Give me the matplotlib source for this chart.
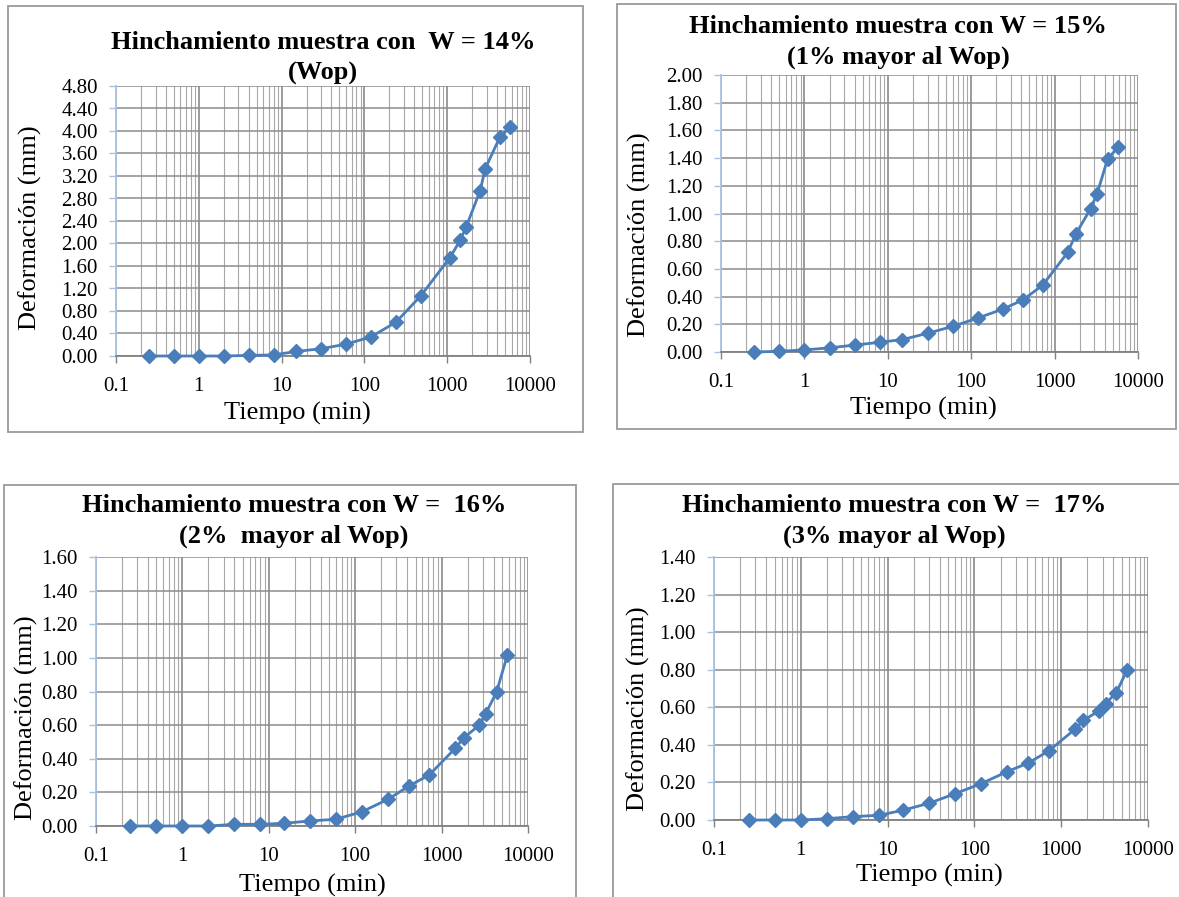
import matplotlib
matplotlib.use("Agg")
import matplotlib.pyplot as plt
from matplotlib.patches import Rectangle
from matplotlib.ticker import FixedLocator, FixedFormatter, LogLocator, NullFormatter

plt.rcParams['font.family'] = ['Liberation Serif', 'DejaVu Serif']

# ---------------- data ----------------
x_w14 = [0.25, 0.5, 1, 2, 4, 8, 15, 30, 60, 120, 240, 480, 1080, 1440, 1700, 2500, 2880, 4320, 5760]
y_w14 = [0, 0, 0, 0, 0.01, 0.02, 0.08, 0.13, 0.21, 0.34, 0.60, 1.07, 1.75, 2.06, 2.30, 2.94, 3.33, 3.89, 4.07]

x_w15 = [0.25, 0.5, 1, 2, 4, 8, 15, 30, 60, 120, 240, 420, 720, 1440, 1800, 2700, 3240, 4320, 5760]
y_w15 = [0, 0.005, 0.015, 0.03, 0.05, 0.07, 0.09, 0.135, 0.185, 0.245, 0.31, 0.377, 0.483, 0.72, 0.853, 1.034, 1.144, 1.394, 1.478]

x_w16 = [0.25, 0.5, 1, 2, 4, 8, 15, 30, 60, 120, 240, 420, 720, 1440, 1800, 2700, 3240, 4320, 5760]
y_w16 = [0, 0, 0, 0, 0.01, 0.01, 0.016, 0.03, 0.04, 0.085, 0.159, 0.238, 0.304, 0.462, 0.524, 0.598, 0.669, 0.796, 1.016]

x_w17 = [0.25, 0.5, 1, 2, 4, 8, 15, 30, 60, 120, 240, 420, 720, 1440, 1800, 2700, 3240, 4320, 5760]
y_w17 = [0, 0, 0, 0.007, 0.018, 0.025, 0.052, 0.089, 0.14, 0.194, 0.258, 0.304, 0.368, 0.483, 0.530, 0.580, 0.620, 0.678, 0.80]

titles = [
    "Hinchamiento muestra con  W = 14%\n(Wop)",
    "Hinchamiento muestra con W = 15%\n(1% mayor al Wop)",
    "Hinchamiento muestra con W =  16%\n(2%  mayor al Wop)",
    "Hinchamiento muestra con W =  17%\n(3% mayor al Wop)",
]
y_max = [4.80, 2.00, 1.60, 1.40]
y_step = [0.40, 0.20, 0.20, 0.20]
x_ticks = [0.1, 1, 10, 100, 1000, 10000]
x_ticklabels = ["0.1", "1", "10", "100", "1000", "10000"]
xlabel = "Tiempo (min)"
ylabel = "Deformación (mm)"

series = [(x_w14, y_w14), (x_w15, y_w15), (x_w16, y_w16), (x_w17, y_w17)]

# ---------------- layout (pixels) ----------------
W, H = 1179, 897
fig = plt.figure(figsize=(W / 100, H / 100), dpi=100)

# axes: left, right, top, bottom
ax_px = [(116, 530, 86, 356), (721, 1138, 75, 352), (96, 528, 557, 826), (714, 1148, 557, 820)]
# chart boxes: left, right, top, bottom
box_px = [(8, 583, 6, 432), (617, 1176, 4, 429), (4, 576, 485, 905), (613, 1185, 484, 905)]
# title block centers
title_px = [(323, 58), (898, 42), (294, 521), (894, 521)]
xlabel_px = [(297, 413), (923, 408), (312, 885), (929, 875)]
ylabel_px = [(30, 228), (639, 235), (26, 718), (638, 709)]

def fx(x):
    return x / W

def fy(y):
    return 1 - y / H

line_color = "#4A7EBB"
major_grid = "#808080"
hgrid = "#8C8C8C"
minor_grid = "#A8A8A8"

for i, (xs, ys) in enumerate(series):
    bl, br, bt, bb = box_px[i]
    fig.patches.append(Rectangle((fx(bl), fy(bb)), fx(br - bl), (bb - bt) / H,
                                 transform=fig.transFigure, fill=False,
                                 edgecolor="#9A9A9A", linewidth=1.3, zorder=0))
    l, r, t, b = ax_px[i]
    ax = fig.add_axes([fx(l), fy(b), fx(r - l), (b - t) / H])
    ax.set_xscale("log")
    ax.set_xlim(0.1, 10000)
    ax.set_ylim(0, y_max[i])
    n = int(round(y_max[i] / y_step[i]))
    yt = [k * y_step[i] for k in range(n + 1)]
    ax.set_yticks(yt)
    ax.set_yticklabels([f"{v:.2f}" for v in yt])
    ax.xaxis.set_major_locator(FixedLocator(x_ticks))
    ax.xaxis.set_major_formatter(FixedFormatter(x_ticklabels))
    ax.xaxis.set_minor_locator(LogLocator(base=10, subs=range(2, 10)))
    ax.xaxis.set_minor_formatter(NullFormatter())
    ax.set_axisbelow(True)
    ax.grid(True, which="major", axis="x", color=major_grid, linewidth=1.1)
    ax.grid(True, which="major", axis="y", color=hgrid, linewidth=1.1)
    ax.grid(True, which="minor", axis="x", color=minor_grid, linewidth=0.8)
    for s in ["top", "right"]:
        ax.spines[s].set_visible(False)
    ax.spines["left"].set_color("#A9C1E3")
    ax.spines["left"].set_linewidth(1.3)
    ax.spines["bottom"].set_color("#808080")
    ax.spines["bottom"].set_linewidth(1.3)
    ax.tick_params(axis="y", which="major", length=5, width=1, color="#A9C1E3",
                   labelsize=15, pad=8)
    ax.tick_params(axis="x", which="major", length=5, width=1, color="#808080",
                   labelsize=15, pad=10)
    ax.tick_params(axis="x", which="minor", length=0)
    ax.plot(xs, ys, color=line_color, linewidth=2.0, marker="D", markersize=7.5,
            markerfacecolor=line_color, markeredgecolor=line_color, clip_on=False, zorder=3)

    tx, ty = title_px[i]
    fig.text(fx(tx), fy(ty), titles[i], ha="center", va="center", fontsize=19,
             fontweight="bold", linespacing=1.45)
    lx, ly = xlabel_px[i]
    fig.text(fx(lx), fy(ly), xlabel, ha="center", va="center", fontsize=19)
    yx, yy = ylabel_px[i]
    fig.text(fx(yx), fy(yy), ylabel, ha="center", va="center", fontsize=19, rotation=90)

fig.savefig("out.png", dpi=100)
